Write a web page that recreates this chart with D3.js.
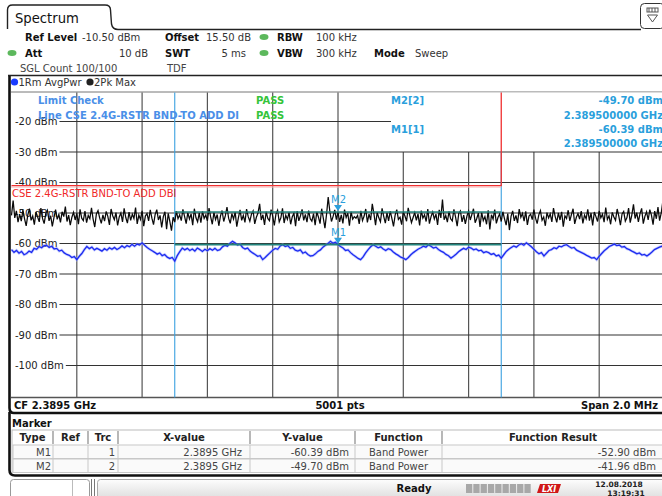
<!DOCTYPE html>
<html><head><meta charset="utf-8">
<script src="https://cdn.jsdelivr.net/npm/d3@7"></script>
<style>
html,body{margin:0;padding:0;background:#fff;overflow:hidden}
svg{display:block;font-family:"DejaVu Sans",Verdana,sans-serif}
</style></head><body>
<svg id="c" width="662" height="496"></svg>
<script>
// ---------- data ----------
const centerFreq = 2389.5;   // MHz
const spanMHz = 2.0;
const refLevel = -10.5;       // dBm
const yTicks = [-20,-30,-40,-50,-60,-70,-80,-90,-100];
const xGridFreqs = [2388.7,2388.9,2389.1,2389.3,2389.5,2389.7,2389.9,2390.1,2390.3];
const xGridFullHeight = [true,true,true,true,true,false,false,false,false];
const bandEdges = [2389.0, 2390.0];
const limitFreq = [2388.5, 2390.0, 2390.0];
const limitLevel = [-41, -41, -10.5];
const limitName = "CSE 2.4G-RSTR BND-TO ADD DBI";
const markerNames = ["M1","M2"];
const markerFreq = [2389.5, 2389.5];
const markerLevel = [-60.39, -49.70];
const bandPower = [-52.90, -41.96];

// Trace 1: RMS average (blue)
const avgPwr = [
-62.0,-62.9,-62.3,-63.2,-62.6,-63.7,-63.3,-62.5,-62.9,-61.6,
-61.9,-61.0,-61.4,-60.7,-60.6,-61.3,-60.9,-61.8,-61.6,-62.5,
-62.2,-63.1,-63.6,-63.9,-64.6,-64.3,-65.3,-64.2,-63.3,-62.0,
-61.0,-61.7,-61.2,-62.1,-61.6,-62.0,-62.5,-61.7,-62.2,-61.4,
-61.9,-61.3,-62.0,-61.5,-60.8,-61.4,-60.7,-61.1,-60.3,-60.9,
-60.2,-60.5,-59.8,-60.6,-61.3,-61.9,-62.4,-62.9,-63.5,-63.1,
-64.0,-63.6,-64.5,-64.9,-64.6,-65.8,-64.0,-62.7,-61.5,-62.1,
-61.6,-62.3,-61.8,-62.5,-61.5,-62.0,-62.6,-61.9,-62.4,-61.7,
-62.2,-61.6,-62.3,-62.0,-61.1,-60.6,-60.9,-59.9,-59.3,-59.8,
-60.5,-60.2,-61.3,-61.8,-61.5,-62.5,-63.1,-63.6,-64.2,-64.0,
-65.3,-64.6,-63.8,-63.0,-62.2,-61.6,-61.9,-60.8,-60.4,-61.0,
-60.7,-61.6,-61.3,-62.2,-62.5,-62.1,-63.2,-62.8,-63.6,-64.1,
-64.0,-63.4,-62.6,-62.1,-61.2,-60.6,-60.0,-59.3,-59.9,-59.6,
-60.4,-61.0,-61.5,-62.3,-62.1,-63.0,-63.7,-64.3,-64.9,-65.3,
-64.4,-63.1,-62.0,-61.1,-60.4,-60.9,-61.4,-61.1,-61.8,-62.3,
-61.7,-62.0,-62.8,-63.4,-63.9,-64.5,-64.8,-65.3,-64.6,-63.7,
-63.0,-62.4,-61.8,-61.4,-60.9,-61.2,-60.4,-60.9,-61.5,-61.2,
-62.0,-62.5,-62.9,-63.6,-64.0,-64.8,-64.2,-63.5,-62.7,-62.1,
-61.6,-62.0,-61.2,-61.5,-62.1,-61.8,-62.4,-62.2,-63.0,-62.7,
-63.0,-63.6,-63.3,-64.1,-63.8,-64.8,-63.7,-62.6,-61.9,-61.3,
-60.8,-61.2,-60.5,-60.1,-60.6,-59.8,-60.4,-61.1,-61.9,-62.7,
-63.4,-63.0,-64.1,-63.2,-62.3,-62.0,-61.4,-61.7,-60.9,-61.1,
-60.6,-60.4,-61.0,-61.5,-61.3,-62.2,-62.6,-63.0,-63.4,-63.9,
-64.3,-64.8,-64.6,-65.3,-64.2,-63.3,-62.4,-61.7,-61.0,-60.6,
-60.2,-60.7,-60.5,-61.2,-61.0,-61.7,-62.0,-62.5,-62.9,-63.4,
-63.1,-63.8,-63.6,-64.1,-63.5,-62.8,-62.0,-61.6,-61.2,-60.9,
-60.8];

// Trace 2: max peak (black)
const pkMax = [
-50.8,-45.9,-51.6,-49.3,-53.0,-50.4,-52.7,-49.0,-51.9,-54.2,
-50.6,-48.6,-52.4,-51.0,-53.8,-49.7,-51.3,-52.9,-48.4,-51.8,
-53.5,-50.2,-49.1,-52.6,-50.9,-54.4,-51.5,-48.9,-52.1,-50.5,
-53.1,-49.6,-51.2,-47.9,-52.8,-50.7,-54.0,-51.4,-49.8,-52.3,
-50.1,-53.7,-48.8,-51.7,-52.5,-49.4,-53.2,-50.8,-51.9,-48.3,
-52.0,-54.6,-50.3,-49.2,-51.6,-53.4,-50.6,-52.7,-49.5,-51.1,
-53.9,-48.7,-50.9,-52.2,-49.9,-54.1,-51.3,-50.0,-52.9,-48.5,
-51.5,-53.3,-49.7,-52.4,-50.4,-51.8,-48.2,-53.6,-50.7,-52.1,
-49.3,-54.3,-51.0,-50.2,-52.6,-49.0,-51.7,-53.8,-50.5,-48.9,
-52.3,-50.8,-54.7,-51.2,-49.6,-55.3,-50.1,-52.8,-55.8,-51.4,
-53.0,-49.4,-51.9,-50.6,-52.5,-48.8,-51.1,-53.5,-49.9,-52.0,
-50.3,-54.0,-48.6,-51.6,-52.9,-50.0,-53.2,-49.5,-51.8,-50.7,
-52.6,-48.4,-51.3,-53.7,-49.8,-52.2,-50.5,-54.2,-51.0,-49.2,
-52.8,-50.9,-48.1,-51.7,-53.4,-50.2,-52.0,-49.7,-54.5,-51.5,
-49.0,-52.4,-50.8,-53.1,-48.7,-51.2,-52.7,-50.4,-49.3,-53.6,
-51.4,-50.0,-47.0,-52.3,-50.6,-53.9,-49.6,-51.8,-52.5,-48.9,
-51.0,-54.1,-50.3,-49.1,-52.9,-51.6,-48.5,-53.3,-50.7,-52.1,
-49.8,-53.7,-51.2,-50.1,-54.3,-49.4,-52.6,-50.9,-48.8,-52.4,
-50.5,-53.0,-49.2,-51.9,-52.7,-50.2,-54.0,-49.7,-51.3,-53.5,
-48.6,-51.7,-55.0,-50.4,-44.8,-49.5,-52.8,-51.1,-49.0,-52.2,
-49.7,-52.9,-50.6,-53.4,-48.9,-51.5,-50.1,-54.2,-49.6,-52.0,
-51.2,-51.7,-50.8,-53.6,-49.3,-52.5,-51.0,-48.7,-53.1,-50.4,
-52.3,-47.0,-50.2,-54.0,-49.8,-51.6,-52.9,-48.5,-51.1,-53.3,
-50.0,-52.6,-49.4,-51.8,-54.4,-50.7,-48.9,-52.1,-51.4,-53.8,
-49.6,-51.0,-52.7,-48.3,-50.9,-53.2,-51.5,-49.9,-52.4,-50.3,
-54.1,-49.2,-51.7,-50.6,-52.8,-48.7,-53.5,-51.2,-49.7,-52.0,
-50.4,-53.9,-49.0,-51.6,-45.6,-52.2,-50.8,-53.0,-49.5,-51.9,
-52.6,-48.8,-51.3,-54.3,-50.1,-49.3,-52.9,-50.7,-53.6,-51.0,
-49.4,-52.3,-50.5,-48.6,-53.2,-51.8,-50.0,-54.6,-49.8,-52.5,
-51.2,-53.7,-49.1,-55.4,-50.6,-52.0,-48.9,-53.4,-51.5,-50.3,
-52.8,-49.6,-51.9,-54.0,-50.2,-55.6,-51.1,-49.3,-52.6,-50.8,
-53.3,-48.7,-51.4,-50.1,-52.7,-49.5,-53.9,-51.0,-50.4,-52.2,
-48.9,-51.7,-53.5,-50.6,-49.2,-52.4,-51.3,-54.2,-49.9,-51.6,
-50.3,-52.9,-48.4,-51.1,-53.1,-50.0,-52.3,-49.6,-54.5,-50.9,
-51.8,-49.1,-52.6,-50.5,-48.6,-53.6,-51.4,-50.2,-52.0,-49.4,
-53.4,-50.7,-51.9,-48.8,-52.5,-50.0,-54.1,-49.7,-51.2,-52.8,
-49.3,-51.6,-50.4,-53.0,-48.2,-52.1,-50.9,-53.7,-49.8,-51.3,
-52.4,-48.7,-51.0,-54.0,-50.3,-49.5,-52.7,-51.5,-48.4,-53.2,
-50.6,-47.2,-51.8,-49.9,-52.9,-50.2,-48.5,-53.5,-51.1,-49.6,
-52.3,-48.9,-50.7,-53.8,-49.4,-51.9,-48.1,-52.5,-50.0,-46.1,
-51.0];

// header parameters
const paramRow1 = [["Ref Level",25,true],["-10.50 dBm",82,false],["Offset",165,true],["15.50 dB",206,false],["RBW",277,true],["100 kHz",316,false]];
const paramRow2 = [["Att",25,true],["SWT",165,true],["VBW",277,true],["300 kHz",316,false],["Mode",374,true],["Sweep",415,false]];
const tableCols = ["Type","Ref","Trc","X-value","Y-value","Function","Function Result"];
const tableColEdges = [12,53,88,118,250,355,442,664];
const tableRows = [
  ["M1","","1","2.3895 GHz","-60.39 dBm","Band Power","-52.90 dBm"],
  ["M2","","2","2.3895 GHz","-49.70 dBm","Band Power","-41.96 dBm"]];

// ---------- drawing ----------
const svg = d3.select("#c");
const x = d3.scaleLinear().domain([centerFreq - spanMHz/2, centerFreq + spanMHz/2]).range([11.5, 664.5]);
const y = d3.scaleLinear().domain([refLevel, refLevel - 100]).range([92.5, 397.5]);
const plotTop = y(refLevel), plotBot = y(refLevel - 100);
const cyan = "#2a9fdc", green = "#35c43a";

svg.append("rect").attr("width",662).attr("height",496).attr("fill","#fff");

// --- top tab ---
svg.append("path").attr("d","M7.5,29 V10 Q7.5,5 12.5,5 H105 Q110.5,5 110.5,10 L111.5,24 Q112.5,29.5 118,29.5 H641")
  .attr("fill","none").attr("stroke","#222").attr("stroke-width",1.4);
svg.append("text").attr("x",15).attr("y",22.5).attr("font-size",13.2).attr("fill","#111").text("Spectrum");
svg.append("rect").attr("x",640.5).attr("y",3.5).attr("width",24).attr("height",25).attr("rx",4)
  .attr("fill","#fff").attr("stroke","#333");
svg.append("rect").attr("x",647).attr("y",8).attr("width",11).attr("height",4).attr("fill","#fff").attr("stroke","#555").attr("stroke-width",1);
svg.selectAll(".ib").data([649,652,655]).join("line").attr("x1",d=>d).attr("x2",d=>d).attr("y1",8).attr("y2",12).attr("stroke","#555");
svg.append("path").attr("d","M647.5,15 H657.5 L652.5,22 Z").attr("fill","none").attr("stroke","#555");

// --- parameter rows ---
function ptext(t,xx,yy,bold,anchor){
  return svg.append("text").attr("x",xx).attr("y",yy).attr("font-size",10).attr("font-weight",bold?"bold":"normal")
    .attr("fill",bold?"#111":"#333").attr("text-anchor",anchor||"start").text(t);
}
paramRow1.forEach(p=>ptext(p[0],p[1],41,p[2]));
paramRow2.forEach(p=>ptext(p[0],p[1],57,p[2]));
ptext("10 dB",148,57,false,"end");
ptext("5 ms",246,57,false,"end");
ptext("SGL Count 100/100",20,72,false).attr("fill","#444");
ptext("TDF",167,72,false).attr("fill","#444");
[[12,53],[264,37],[264,53]].forEach(d=>svg.append("ellipse").attr("cx",d[0]).attr("cy",d[1]).attr("rx",4.5).attr("ry",3).attr("fill","#5cb85c"));
svg.append("line").attr("x1",8).attr("x2",662).attr("y1",75.5).attr("y2",75.5).attr("stroke","#222").attr("stroke-width",1.5);

// --- trace legend row ---
svg.append("circle").attr("cx",14.5).attr("cy",82).attr("r",3.6).attr("fill","#1a3cff");
ptext("1Rm AvgPwr",18.5,86,false).attr("fill","#333");
svg.append("circle").attr("cx",90).attr("cy",82).attr("r",3.6).attr("fill","#222");
ptext("2Pk Max",94,86,false).attr("fill","#333");

// --- frame ---
svg.append("line").attr("x1",11).attr("x2",662).attr("y1",plotTop-0.5).attr("y2",plotTop-0.5).attr("stroke","#777").attr("stroke-width",1);
svg.append("line").attr("x1",11).attr("x2",662).attr("y1",plotBot).attr("y2",plotBot).attr("stroke","#555").attr("stroke-width",1.5);

// --- grid ---
svg.selectAll(".vg").data(xGridFreqs).join("line")
  .attr("x1",d=>x(d)).attr("x2",d=>x(d))
  .attr("y1",(d,i)=>xGridFullHeight[i]?plotTop:y(-30)).attr("y2",plotBot)
  .attr("stroke","#555").attr("stroke-width",1.2);
const yl = svg.selectAll(".yl").data(yTicks).join("text")
  .attr("x",15).attr("y",d=>y(d)+4).attr("font-size",10).attr("fill","#222").text(d=>d+" dBm");
yl.each(function(d){
  const end = 15 + this.getComputedTextLength() + 2;
  svg.append("line").attr("x1",end).attr("x2",d===-20?391:662).attr("y1",y(d)).attr("y2",y(d))
    .attr("stroke","#333").attr("stroke-width",1.1);
});

// band edges
svg.selectAll(".be").data(bandEdges).join("line")
  .attr("x1",d=>x(d)).attr("x2",d=>x(d)).attr("y1",plotTop).attr("y2",plotBot)
  .attr("stroke","#3aa0e0").attr("stroke-width",1.1);

// marker info box background
svg.append("rect").attr("x",391).attr("y",plotTop).attr("width",275).attr("height",y(-30)-plotTop-1).attr("fill","#fff");

// limit line
svg.append("path").datum(limitFreq.map((f,i)=>[f,limitLevel[i]]))
  .attr("d",d3.line().x(d=>x(d[0])).y(d=>y(d[1])))
  .attr("fill","none").attr("stroke","#f03030").attr("stroke-width",1.3);
svg.append("line").attr("x1",11).attr("x2",x(2390)).attr("y1",y(-41)+1.5).attr("y2",y(-41)+1.5).attr("stroke","#f8b0b0").attr("stroke-width",1);
svg.append("text").attr("x",12).attr("y",197).attr("font-size",10).attr("fill","#f02828").text(limitName);

// traces
function tracePts(arr){ const n=arr.length; return arr.map((v,i)=>[x.domain()[0]+i*spanMHz/(n-1), v]); }
const ln = d3.line().x(d=>x(d[0])).y(d=>y(d[1]));
svg.append("path").datum(tracePts(pkMax)).attr("d",ln).attr("fill","none").attr("stroke","#0a0a0a").attr("stroke-width",1.25);
svg.append("path").datum(tracePts(avgPwr)).attr("d",ln).attr("fill","none").attr("stroke","#9aa8ff").attr("stroke-width",2.8).attr("opacity",0.55);
svg.append("path").datum(tracePts(avgPwr)).attr("d",ln).attr("fill","none").attr("stroke","#1d2bf0").attr("stroke-width",1.3);

// band power lines
svg.selectAll(".bp").data(markerLevel).join("line")
  .attr("x1",x(bandEdges[0])).attr("x2",x(bandEdges[1])).attr("y1",d=>y(d)).attr("y2",d=>y(d))
  .attr("stroke","#23857e").attr("stroke-width",1.6);

// markers
markerNames.forEach((m,i)=>{
  const mx=x(markerFreq[i]), my=y(markerLevel[i]);
  svg.append("path").attr("d",`M${mx-4},${my-7} H${mx+4} L${mx},${my-1} Z`).attr("fill",cyan);
  svg.append("text").attr("x",mx-7).attr("y",my-9).attr("font-size",10).attr("fill",cyan).text(m);
});

// limit check texts
function btext(t,xx,yy,col,anchor){
  return svg.append("text").attr("x",xx).attr("y",yy).attr("font-size",10).attr("font-weight","bold")
    .attr("fill",col).attr("text-anchor",anchor||"start").text(t);
}
btext("Limit Check",38,104,"#4a8fe8");
btext("PASS",256,104,green);
btext("Line CSE 2.4G-RSTR BND-TO ADD DI",38,119,"#4a8fe8");
btext("PASS",256,119,green);

// marker info
const ghz = f => (f/1000).toFixed(9) + " GHz";
btext("M2[2]",391,104,cyan);
btext(markerLevel[1].toFixed(2)+" dBm",663,104,cyan,"end");
btext(ghz(markerFreq[1]),663,118.5,cyan,"end");
btext("M1[1]",391,133,cyan);
btext(markerLevel[0].toFixed(2)+" dBm",663,133,cyan,"end");
btext(ghz(markerFreq[0]),663,147,cyan,"end");

// bottom info row
btext("CF 2.3895 GHz",14,409,"#111");
btext("5001 pts",340,409,"#111","middle");
btext("Span 2.0 MHz",658,409,"#111","end");
svg.append("path").attr("d","M9.5,76 V408 Q9.5,413 14,413 H662").attr("fill","none").attr("stroke","#111").attr("stroke-width",2.6);

// marker table
btext("Marker",12,427,"#111");
svg.append("rect").attr("x",12).attr("y",430).attr("width",652).attr("height",42).attr("fill","#fff").attr("stroke","#bbb");
svg.selectAll(".rowbg").data([445,459]).join("rect").attr("x",13).attr("y",d=>d).attr("width",651).attr("height",13.5)
  .attr("fill","#fafafa").attr("stroke","#c8c8c8");
tableColEdges.slice(1,-1).forEach(cx=>{
  svg.append("line").attr("x1",cx).attr("x2",cx).attr("y1",431).attr("y2",444).attr("stroke","#888").attr("stroke-width",1.2);
  svg.append("line").attr("x1",cx).attr("x2",cx).attr("y1",445).attr("y2",472).attr("stroke","#c8c8c8");
});
tableCols.forEach((c,i)=>btext(c,(tableColEdges[i]+tableColEdges[i+1])/2,441,"#222","middle"));
const rightEdges = [51,null,115,242,349,null,656];
tableRows.forEach((r,ri)=>{
  r.forEach((v,ci)=>{
    if(!v) return;
    const yy = 456 + ri*14;
    if(ci===5) ptext(v,(tableColEdges[5]+tableColEdges[6])/2,yy,false,"middle").attr("fill","#444");
    else ptext(v,rightEdges[ci],yy,false,"end").attr("fill","#444");
  });
});
svg.append("path").attr("d","M9.5,412 V470 Q9.5,475.5 15,475.5 H662").attr("fill","none").attr("stroke","#111").attr("stroke-width",2.6);

// status bar
svg.append("rect").attr("x",10.5).attr("y",479.5).attr("width",79).attr("height",20).attr("rx",3).attr("fill","#fff").attr("stroke","#999");
svg.append("line").attr("x1",72.5).attr("x2",72.5).attr("y1",480).attr("y2",496).attr("stroke","#bbb");
[91.5,94.5].forEach(xx=>svg.append("line").attr("x1",xx).attr("x2",xx).attr("y1",479).attr("y2",496).attr("stroke","#777"));
const grad = svg.append("defs").append("linearGradient").attr("id","sb").attr("x1",0).attr("x2",0).attr("y1",0).attr("y2",1);
grad.append("stop").attr("offset","0").attr("stop-color","#fdfdfd");
grad.append("stop").attr("offset","1").attr("stop-color","#dcdcdc");
svg.append("rect").attr("x",97.5).attr("y",479.5).attr("width",570).attr("height",20).attr("rx",3).attr("fill","url(#sb)").attr("stroke","#aaa");
btext("Ready",414,492,"#111","middle");
svg.selectAll(".pb").data(d3.range(9)).join("rect").attr("x",d=>466+d*7.3).attr("y",484).attr("width",6.3).attr("height",9).attr("fill","#a8a8a8");
svg.append("path").attr("d","M540,484 H561 L558,493 H537 Z").attr("fill","#d01818");
svg.append("text").attr("x",549).attr("y",491.5).attr("font-size",8).attr("font-style","italic").attr("font-weight","bold").attr("fill","#fff").attr("text-anchor","middle").text("LXI");
svg.append("text").attr("x",619).attr("y",487).attr("font-size",7.5).attr("font-weight","bold").attr("fill","#222").attr("text-anchor","middle").text("12.08.2018");
svg.append("text").attr("x",626).attr("y",495.5).attr("font-size",7.5).attr("font-weight","bold").attr("fill","#222").attr("text-anchor","middle").text("13:19:31");
</script>
</body></html>
